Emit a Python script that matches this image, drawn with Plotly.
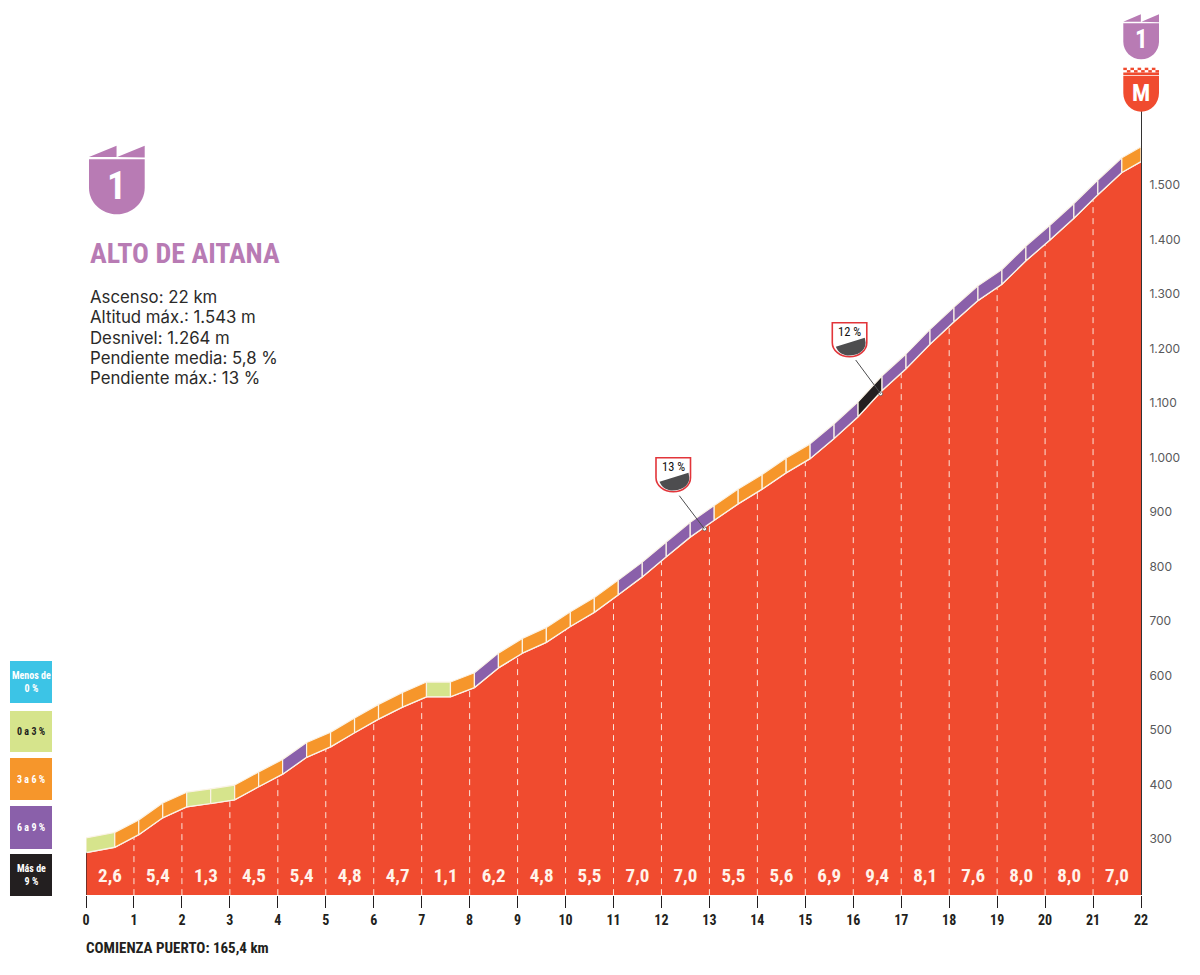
import numpy as np
import plotly.graph_objects as go

# Perfil del puerto (km / altitud)
km_points = [0, 0.6, 1.1, 1.6, 2.1, 2.6, 3.1, 3.6, 4.1, 4.6, 5.1, 5.6, 6.1, 6.6, 7.1, 7.6, 8.1, 8.6, 9.1, 9.6,
             10.1, 10.6, 11.1, 11.6, 12.1, 12.6, 13.1, 13.6, 14.1, 14.6, 15.1, 15.6, 16.1, 16.6, 17.1, 17.6,
             18.1, 18.6, 19.1, 19.6, 20.1, 20.6, 21.1, 21.6, 22]
altitudes = [275, 285, 308, 339, 359, 365, 372, 396, 419, 450, 469, 495, 520, 542, 561, 561, 578, 614, 641, 661,
             690, 716, 748, 781, 818, 854, 885, 915, 942, 972, 998, 1035, 1075, 1123, 1163, 1208,
             1249, 1288, 1318, 1361, 1399, 1439, 1482, 1523, 1543]
# Tramo de pendiente de cada segmento
segment_classes = ['0a3', '3a6', '3a6', '3a6', '0a3', '0a3', '3a6', '3a6', '6a9', '3a6', '3a6', '3a6', '3a6', '3a6',
                   '0a3', '3a6', '6a9', '3a6', '3a6', '3a6', '3a6', '3a6', '6a9', '6a9', '6a9', '6a9',
                   '3a6', '3a6', '3a6', '3a6', '6a9', '6a9', 'mas9', '6a9', '6a9', '6a9', '6a9', '6a9', '6a9',
                   '6a9', '6a9', '6a9', '6a9', '3a6']
km_gradients = ['2,6', '5,4', '1,3', '4,5', '5,4', '4,8', '4,7', '1,1', '6,2', '4,8', '5,5', '7,0', '7,0', '5,5',
                '5,6', '6,9', '9,4', '8,1', '7,6', '8,0', '8,0', '7,0']
km_ticks = list(range(23))
alt_ticks = [300, 400, 500, 600, 700, 800, 900, 1000, 1100, 1200, 1300, 1400, 1500]
alt_labels = ['300', '400', '500', '600', '700', '800', '900', '1.000', '1.100', '1.200', '1.300', '1.400', '1.500']
steep_km = [12.9, 16.57]
steep_alt = [869, 1117]
info_lines = ['Ascenso: 22 km', 'Altitud máx.: 1.543 m', 'Desnivel: 1.264 m', 'Pendiente media: 5,8 %',
              'Pendiente máx.: 13 %']

RED = '#F04B2F'
MAUVE = '#B87BB4'
DARK = '#231F20'
COLORS = {'0a3': '#D6E48C', '3a6': '#F6962B', '6a9': '#8A60AA', 'mas9': DARK}
NARROW = 'Roboto Condensed, DejaVu Sans Condensed, Liberation Sans, sans-serif'
BAND = 27

# Area del grafico en pixeles de la pagina (el body tiene margen de 8)
PAGE = 8
LEFT, RIGHT, TOP, BOTTOM = 86, 1141, 110, 895
W, H = 1184, 959


def px(x):
    return (x - LEFT) / (RIGHT - LEFT)


def py(y):
    return (BOTTOM - y) / (BOTTOM - TOP)


def path(cmds):
    # cmds: lista de (letra, x, y, ...) en pixeles de pagina
    out = []
    for c in cmds:
        if c[0] == 'Z':
            out.append('Z')
            continue
        nums = c[1:]
        pts = [f'{px(nums[i]):.5f},{py(nums[i + 1]):.5f}' for i in range(0, len(nums), 2)]
        out.append(c[0] + ' '.join(pts))
    return ' '.join(out)


def shape(cmds, fill, line_color=None, line_width=0):
    return dict(type='path', xref='paper', yref='paper', path=path(cmds), fillcolor=fill,
                line=dict(color=line_color or fill, width=line_width), layer='above')


def rect(x0, y0, x1, y1, fill):
    return shape([('M', x0, y0), ('L', x1, y0), ('L', x1, y1), ('L', x0, y1), ('Z',)], fill)


def label(x, y, text, size, color=DARK, family=NARROW, bold=True, anchor='center'):
    return dict(xref='paper', yref='paper', x=px(x), y=py(y), text=text, showarrow=False, xanchor=anchor,
                yanchor='middle', align='center', borderpad=0,
                font=dict(family=family, size=size, color=color, weight='bold' if bold else 'normal'))


def shield_body(x0, x1, y0, y1, y2):
    k = (x1 - x0) / 2
    xm = (x0 + x1) / 2
    return [('M', x0, y0), ('L', x1, y0), ('L', x1, y1),
            ('C', x1, y1 + (y2 - y1) * 0.55, xm + k * 0.55, y2, xm, y2),
            ('C', xm - k * 0.55, y2, x0, y1 + (y2 - y1) * 0.55, x0, y1), ('Z',)]


def flags(x0, x1, ytop, ybase):
    xm = (x0 + x1) / 2
    return [('M', x0, ybase), ('L', xm - 0.3, ytop), ('L', xm - 0.3, ybase), ('Z',),
            ('M', xm + 0.3, ybase), ('L', x1, ytop), ('L', x1, ybase + 0.5), ('Z',)]


def badge(x0, y0, text):
    x1, y1, y2 = x0 + 34.5, y0 + 20, y0 + 34
    return [
        shape(shield_body(x0, x1, y0, y1, y2), 'white', '#E2353A', 1.6),
        shape([('M', x0 + 3.5, y0 + 24), ('L', x1 - 2, y0 + 15), ('L', x1 - 1.2, y1),
               ('C', x1 - 1.2, y2 - 5, x0 + 24, y2 - 1.2, x0 + 17, y2 - 1.2),
               ('C', x0 + 11, y2 - 1.2, x0 + 6, y2 - 4, x0 + 3.5, y0 + 24), ('Z',)], '#4D4D4F'),
    ], label(x0 + 17, y0 + 9, text, 12.5, color='#111111', bold=False)


fig = go.Figure()

# Perfil rojo
fig.add_trace(go.Scatter(x=km_points, y=altitudes, mode='lines', fill='tozeroy', fillcolor=RED,
                         line=dict(color='white', width=1.5), hoverinfo='skip'))

# Banda de pendiente, un poligono por segmento
for i, cls in enumerate(segment_classes):
    x0, x1 = km_points[i], km_points[i + 1]
    e0, e1 = altitudes[i], altitudes[i + 1]
    fig.add_trace(go.Scatter(x=[x0, x1, x1, x0, x0], y=[e0, e1, e1 + BAND, e0 + BAND, e0], mode='lines',
                             fill='toself', fillcolor=COLORS[cls], line=dict(color='#FBF3E6', width=1.2),
                             hoverinfo='skip'))

# Lineas discontinuas de cada km
dash_x, dash_y = [], []
for k in km_ticks[1:-1]:
    dash_x += [k, k, None]
    dash_y += [197, float(np.interp(k, km_points, altitudes)), None]
fig.add_trace(go.Scatter(x=dash_x, y=dash_y, mode='lines', line=dict(color='#FBE3D8', width=1, dash='6px,5px'),
                         hoverinfo='skip'))

# Linea inicial en km 0
fig.add_trace(go.Scatter(x=[0, 0], y=[197, altitudes[0]], mode='lines', line=dict(color=DARK, width=1.2),
                         hoverinfo='skip'))

# Pendiente media por km
fig.add_trace(go.Scatter(x=[k + 0.5 for k in km_ticks[:-1]], y=[229] * len(km_gradients), mode='text',
                         text=km_gradients, textposition='middle center',
                         textfont=dict(family=NARROW, size=19, color='#FFF3EA', weight='bold'), hoverinfo='skip'))

# Puntos de rampa maxima
fig.add_trace(go.Scatter(x=steep_km, y=steep_alt, mode='markers',
                         marker=dict(size=4, color='white', line=dict(color='#4D4D4F', width=0.7)),
                         hoverinfo='skip'))

shapes = []
annotations = []

# Leyenda de pendientes
legend_boxes = [(661, 703, '#3CC4E6', 'Menos de<br>0 %', 'white'), (711, 752, '#D6E48C', '0 a 3 %', DARK),
                (758, 800, '#F6962B', '3 a 6 %', 'white'), (806, 849, '#8A60AA', '6 a 9 %', 'white'),
                (854, 896, DARK, 'Más de<br>9 %', 'white')]
for y0, y1, color, text, text_color in legend_boxes:
    shapes.append(rect(10, y0, 52, y1, color))
    annotations.append(label(31, (y0 + y1) / 2, text, 10, text_color))

# Escudo grande y nombre del puerto
shapes.append(shape(flags(89, 144.7, 145.7, 157), MAUVE))
shapes.append(shape(shield_body(89, 144.7, 159.3, 188, 214.3), MAUVE))
annotations.append(label(116.5, 186, '1', 38, 'white'))
annotations.append(label(88.5, 254, 'ALTO DE AITANA', 28, MAUVE, anchor='left'))
for i, line in enumerate(info_lines):
    annotations.append(label(88.5, 297 + i * 20.3, line, 16.8, '#2B2A29', 'Inter', False, 'left'))

# Escudos de meta
shapes.append(shape(flags(1123.3, 1159, 14.3, 21.7), MAUVE))
shapes.append(shape(shield_body(1123.3, 1159, 23.3, 41.7, 59.3), MAUVE))
annotations.append(label(1141, 39.5, '1', 25, 'white'))
shapes.append(shape(shield_body(1123.3, 1159, 76, 93, 111.7), RED))
# Almenas en damero sobre el escudo M
shapes.append(rect(1123.3, 72.5, 1159, 75.2, RED))
for i in range(10):
    x = 1123.3 + i * 3.57
    if i % 2 == 0:
        shapes.append(rect(x, 67.7, x + 3.57, 70.1, RED))
    else:
        shapes.append(rect(x, 70.1, x + 3.57, 72.5, RED))
annotations.append(label(1141, 93, 'M', 24, 'white'))

# Indicadores de rampa
for x0, y0, text, lead in [(656, 457.7, '13 %', (679.3, 495.7, 704.3, 528.7)),
                           (832.3, 322.7, '12 %', (855.7, 360, 880.7, 393.7))]:
    badge_shapes, badge_label = badge(x0, y0, text)
    shapes += badge_shapes
    annotations.append(badge_label)
    shapes.append(dict(type='line', xref='paper', yref='paper', x0=px(lead[0]), y0=py(lead[1]), x1=px(lead[2]),
                       y1=py(lead[3]), line=dict(color='#4D4D4F', width=1), layer='above'))

annotations.append(label(85, 948, 'COMIENZA PUERTO: 165,4 km', 15, anchor='left'))

fig.update_layout(
    width=W,
    height=H,
    margin=dict(l=LEFT - PAGE, r=W - (RIGHT - PAGE), t=TOP - PAGE, b=H - (BOTTOM - PAGE), pad=0),
    paper_bgcolor='white',
    plot_bgcolor='white',
    showlegend=False,
    hovermode=False,
    xaxis=dict(range=[0, 22], tickvals=km_ticks, ticks='outside', ticklen=12, tickwidth=1, tickcolor=DARK,
               showgrid=False, zeroline=False, showline=False, automargin=False,
               tickfont=dict(family=NARROW, size=14, color=DARK, weight='bold')),
    yaxis=dict(range=[197.25, 1637.6], side='right', tickvals=alt_ticks, ticktext=alt_labels, ticks='',
               showgrid=False, zeroline=False, showline=True, linecolor='#333333', linewidth=1, automargin=False,
               ticklabelstandoff=5, tickfont=dict(family='Inter', size=12, color='#58595B')),
    shapes=shapes,
    annotations=annotations,
)

fig.write_html("out.html")
